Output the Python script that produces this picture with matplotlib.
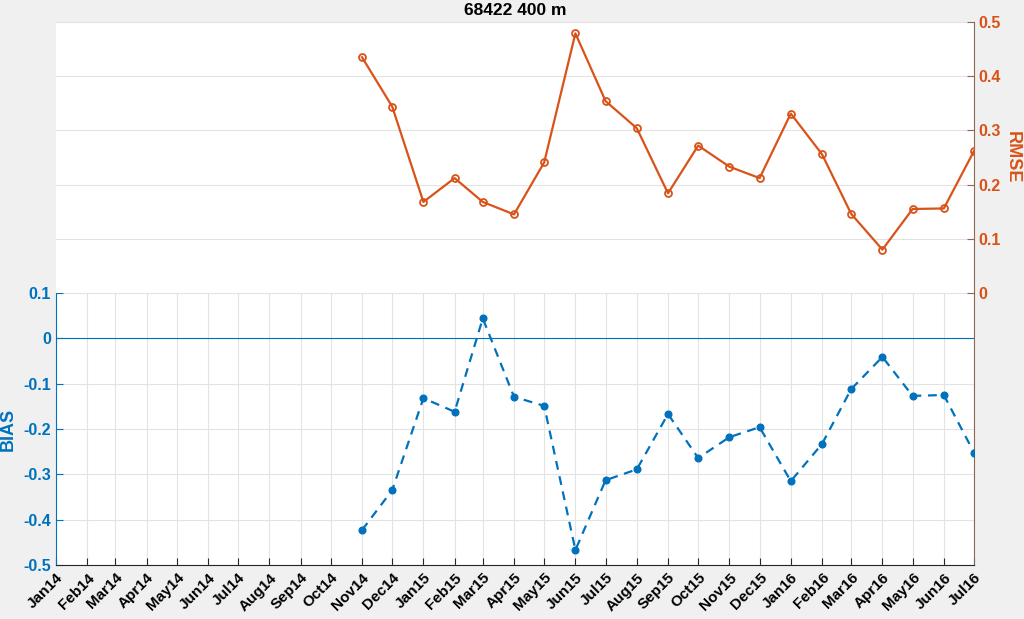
import datetime as dt
import matplotlib
matplotlib.use("Agg")
import matplotlib.pyplot as plt
import matplotlib.dates as mdates

plt.rcParams['font.family'] = ['Liberation Sans', 'DejaVu Sans']
plt.rcParams['font.weight'] = 'bold'

# ---- data ----
tick_labels = ['Jan14', 'Feb14', 'Mar14', 'Apr14', 'May14', 'Jun14', 'Jul14', 'Aug14',
               'Sep14', 'Oct14', 'Nov14', 'Dec14', 'Jan15', 'Feb15', 'Mar15', 'Apr15',
               'May15', 'Jun15', 'Jul15', 'Aug15', 'Sep15', 'Oct15', 'Nov15', 'Dec15',
               'Jan16', 'Feb16', 'Mar16', 'Apr16', 'May16', 'Jun16', 'Jul16']
data_months = tick_labels[10:]
rmse = [0.435, 0.344, 0.168, 0.212, 0.168, 0.145, 0.241, 0.479, 0.354, 0.304, 0.184,
        0.272, 0.233, 0.212, 0.331, 0.256, 0.146, 0.080, 0.155, 0.156, 0.262]
bias = [-0.423, -0.335, -0.132, -0.162, 0.044, -0.129, -0.149, -0.467, -0.313, -0.289,
        -0.167, -0.264, -0.218, -0.196, -0.315, -0.233, -0.112, -0.041, -0.127, -0.125,
        -0.252]
title = '68422 400 m'


def to_date(lbl):
    return dt.datetime.strptime(lbl, '%b%y')


tick_dates = [to_date(s) for s in tick_labels]
x = [to_date(s) for s in data_months]

BLUE = '#0072BD'
ORANGE = '#D95319'
GRID = '#e3e3e3'

fig = plt.figure(figsize=(10.24, 6.19), dpi=100, facecolor='#f0f0f0')

# bottom axes: BIAS
axb = fig.add_axes([56 / 1024, (619 - 565) / 619, 918 / 1024, 272 / 619])
axb.set_facecolor('white')
axb.axhline(0, color=BLUE, lw=0.8, zorder=2)
axb.plot(x, bias, '--o', color=BLUE, lw=1.6, ms=4.8, zorder=3, dashes=(4, 3))
axb.set_xlim(tick_dates[0], tick_dates[-1])
axb.set_ylim(-0.5, 0.1)
axb.set_yticks([-0.5, -0.4, -0.3, -0.2, -0.1, 0, 0.1])
axb.set_yticklabels(['-0.5', '-0.4', '-0.3', '-0.2', '-0.1', '0', '0.1'])
axb.set_xticks(tick_dates)
axb.set_xticklabels(tick_labels, rotation=45, ha='right', rotation_mode='anchor',
                    fontsize=11, fontweight='bold')
axb.grid(True, color=GRID, lw=0.8, zorder=0)
axb.set_axisbelow(True)
axb.tick_params(axis='x', direction='in', length=5, colors='#262626', labelcolor='black', pad=4)
axb.tick_params(axis='y', direction='in', length=5, colors=BLUE, labelcolor=BLUE, labelsize=11.5)
for lab in axb.get_yticklabels():
    lab.set_fontweight('bold')
axb.spines['left'].set_color(BLUE)
axb.spines['bottom'].set_color('#262626')
axb.spines['top'].set_visible(False)
axb.spines['right'].set_color('#8c6a58')
axb.set_ylabel('BIAS', color=BLUE, fontsize=13, fontweight='bold', labelpad=5)

# top axes: RMSE
axt = fig.add_axes([56 / 1024, (619 - 293) / 619, 918 / 1024, 271 / 619])
axt.set_facecolor('white')
axt.plot(x, rmse, '-o', color=ORANGE, lw=1.6, ms=5, mfc='none', mew=1.3, zorder=3)
axt.set_xlim(tick_dates[0], tick_dates[-1])
axt.set_ylim(0, 0.5)
axt.set_xticks([])
axt.yaxis.tick_right()
axt.yaxis.set_label_position('right')
axt.set_yticks([0, 0.1, 0.2, 0.3, 0.4, 0.5])
axt.set_yticklabels(['0', '0.1', '0.2', '0.3', '0.4', '0.5'])
axt.grid(True, axis='y', color=GRID, lw=0.8, zorder=0)
axt.set_axisbelow(True)
axt.tick_params(axis='y', direction='in', length=5, colors='#8c6a58', labelcolor=ORANGE,
                labelsize=11.5)
for lab in axt.get_yticklabels():
    lab.set_fontweight('bold')
for s in ['left', 'top', 'bottom']:
    axt.spines[s].set_visible(False)
axt.spines['right'].set_color('#8c6a58')
axt.set_ylabel('RMSE', color=ORANGE, fontsize=13, fontweight='bold', rotation=270,
               labelpad=14)
axt.set_title(title, fontsize=12.5, fontweight='bold', pad=5)

fig.savefig('out.png', dpi=100, facecolor=fig.get_facecolor())
